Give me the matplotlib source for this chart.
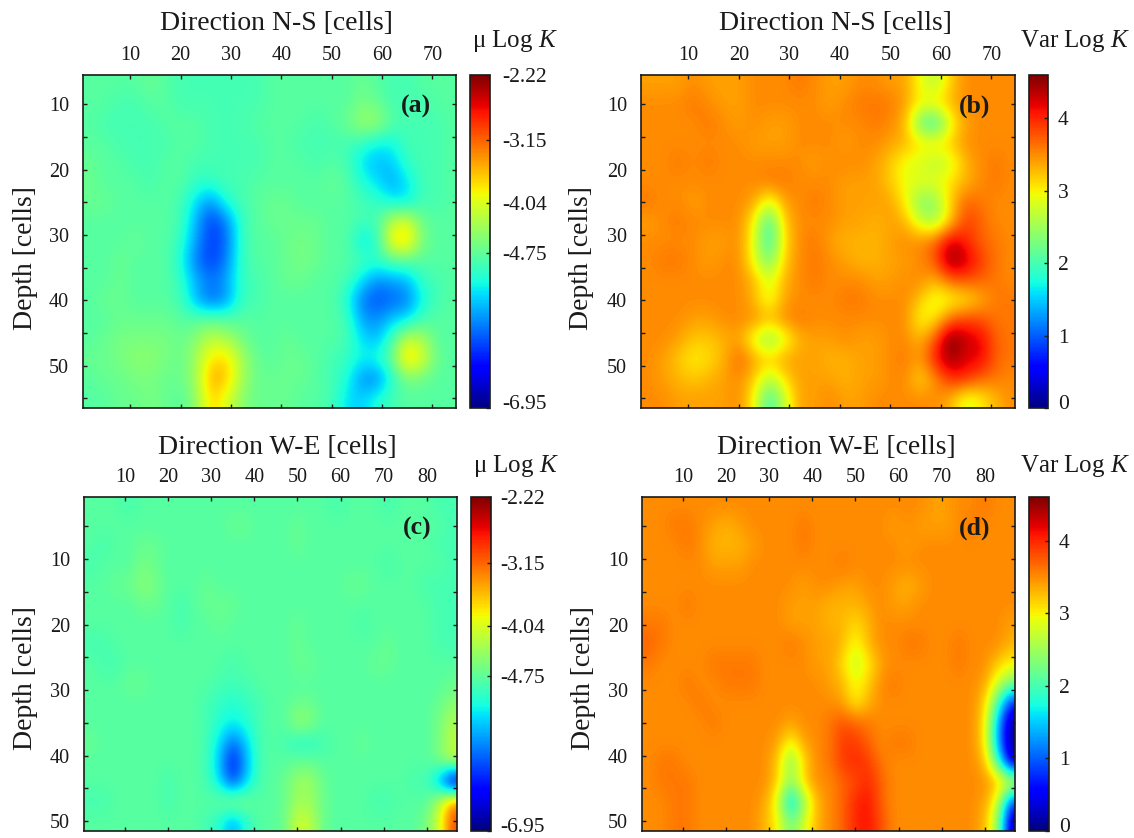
import numpy as np
import matplotlib
matplotlib.use("Agg")
import matplotlib.pyplot as plt
from matplotlib.transforms import ScaledTranslation

plt.rcParams['font.family'] = ['Liberation Serif', 'DejaVu Serif']
plt.rcParams['mathtext.fontset'] = 'custom'
plt.rcParams['mathtext.it'] = 'Liberation Serif:italic'
plt.rcParams['mathtext.rm'] = 'Liberation Serif'

W, H = 1134, 838

# columns every 3 cells: x = 2, 5, ..., 74 ; rows: depth = 7, 10, ..., 55
mu_ns = [
[-4.8,-4.8,-4.8,-4.8,-4.7,-4.8,-4.9,-4.9,-4.9,-4.9,-4.9,-4.9,-4.8,-4.8,-4.8,-4.8,-4.8,-4.8,-4.7,-4.8,-4.9,-4.9,-4.8,-4.8,-4.8],
[-4.8,-4.8,-4.9,-4.9,-4.8,-4.8,-4.9,-4.9,-4.9,-4.9,-4.9,-4.9,-4.8,-4.8,-4.8,-4.8,-4.8,-4.8,-4.6,-4.7,-4.9,-4.9,-4.9,-4.8,-4.8],
[-4.8,-4.9,-4.9,-4.9,-4.9,-4.8,-4.8,-4.8,-4.9,-4.9,-4.9,-4.8,-4.8,-4.8,-4.8,-4.9,-4.8,-4.7,-4.4,-4.4,-4.8,-4.9,-4.9,-4.9,-4.8],
[-4.8,-4.8,-4.9,-4.9,-4.9,-4.9,-4.8,-4.8,-4.9,-4.9,-4.9,-4.9,-4.8,-4.8,-4.9,-4.9,-4.9,-4.9,-5.0,-5.2,-5.2,-4.9,-4.9,-4.9,-4.8],
[-4.7,-4.8,-4.8,-4.9,-4.9,-4.8,-4.8,-4.9,-4.9,-4.9,-4.9,-4.9,-4.8,-4.8,-4.8,-4.9,-4.8,-4.9,-5.3,-5.5,-5.4,-5.0,-4.9,-4.9,-4.8],
[-4.7,-4.8,-4.8,-4.8,-4.9,-4.8,-4.8,-5.0,-5.0,-4.9,-4.9,-4.8,-4.8,-4.8,-4.8,-4.8,-4.7,-4.8,-5.1,-5.3,-5.6,-5.3,-4.9,-4.9,-4.8],
[-4.7,-4.7,-4.8,-4.8,-4.8,-4.8,-4.9,-5.3,-5.7,-5.1,-4.9,-4.8,-4.7,-4.7,-4.8,-4.8,-4.8,-4.8,-4.9,-5.0,-5.2,-5.3,-4.9,-4.9,-4.8],
[-4.8,-4.8,-4.8,-4.8,-4.8,-4.8,-4.9,-5.5,-6.1,-5.8,-5.0,-4.8,-4.7,-4.7,-4.7,-4.7,-4.8,-4.8,-4.9,-4.9,-4.2,-4.0,-4.7,-4.8,-4.8],
[-4.8,-4.8,-4.8,-4.7,-4.8,-4.8,-5.0,-5.6,-6.1,-5.9,-5.0,-4.8,-4.8,-4.7,-4.6,-4.7,-4.8,-4.8,-5.3,-5.1,-3.8,-3.6,-4.6,-4.8,-4.8],
[-4.8,-4.8,-4.7,-4.8,-4.8,-4.8,-5.1,-5.8,-6.1,-5.8,-5.0,-4.8,-4.8,-4.7,-4.6,-4.7,-4.8,-4.8,-4.9,-5.0,-4.8,-4.8,-4.8,-4.8,-4.8],
[-4.8,-4.8,-4.7,-4.8,-4.8,-4.8,-5.0,-5.5,-5.8,-5.6,-5.0,-4.9,-4.8,-4.7,-4.7,-4.8,-4.8,-4.9,-5.3,-5.7,-5.6,-5.5,-5.0,-4.9,-4.8],
[-4.8,-4.7,-4.7,-4.8,-4.8,-4.8,-4.9,-5.5,-5.9,-5.7,-5.0,-4.9,-4.8,-4.8,-4.8,-4.8,-4.8,-5.1,-5.8,-6.0,-5.9,-5.8,-5.2,-4.9,-4.8],
[-4.8,-4.8,-4.7,-4.7,-4.7,-4.7,-4.8,-4.8,-4.7,-4.8,-4.8,-4.8,-4.8,-4.8,-4.8,-4.8,-4.8,-4.9,-5.6,-5.7,-5.4,-5.3,-4.9,-4.8,-4.8],
[-4.8,-4.7,-4.6,-4.6,-4.6,-4.6,-4.7,-4.5,-4.2,-4.3,-4.6,-4.8,-4.8,-4.7,-4.8,-4.8,-4.8,-4.9,-5.3,-5.5,-4.9,-4.1,-4.3,-4.8,-4.8],
[-4.7,-4.7,-4.6,-4.5,-4.5,-4.6,-4.7,-4.4,-3.8,-3.7,-4.3,-4.7,-4.8,-4.7,-4.7,-4.8,-4.9,-5.0,-5.2,-5.1,-4.7,-3.6,-4.0,-4.7,-4.8],
[-4.8,-4.7,-4.7,-4.6,-4.6,-4.7,-4.7,-4.4,-3.5,-3.6,-4.3,-4.7,-4.7,-4.7,-4.7,-4.8,-4.9,-5.1,-5.7,-5.8,-5.1,-4.6,-4.7,-4.8,-4.8],
[-4.8,-4.8,-4.7,-4.7,-4.6,-4.7,-4.8,-4.5,-3.7,-4.0,-4.5,-4.7,-4.7,-4.7,-4.8,-4.8,-4.9,-5.3,-5.4,-5.1,-4.9,-4.8,-4.8,-4.8,-4.8],
]

var_ns = [
[3.4,3.4,3.4,3.5,3.4,3.4,3.4,3.5,3.5,3.5,3.6,3.5,3.4,3.4,3.5,3.5,3.4,3.4,2.9,2.6,3.2,3.5,3.5,3.5,3.5],
[3.5,3.5,3.5,3.6,3.5,3.4,3.4,3.5,3.5,3.5,3.5,3.5,3.4,3.5,3.6,3.6,3.6,3.4,3.0,3.1,3.3,3.5,3.5,3.5,3.5],
[3.5,3.5,3.5,3.5,3.6,3.5,3.4,3.5,3.4,3.4,3.5,3.5,3.5,3.5,3.5,3.6,3.5,3.3,2.1,1.8,2.9,3.4,3.5,3.5,3.5],
[3.5,3.5,3.5,3.5,3.5,3.5,3.5,3.4,3.4,3.4,3.5,3.5,3.5,3.4,3.5,3.5,3.4,3.3,3.1,3.1,3.2,3.5,3.5,3.5,3.5],
[3.5,3.5,3.6,3.5,3.6,3.5,3.5,3.5,3.5,3.5,3.5,3.4,3.5,3.5,3.5,3.4,3.2,2.9,2.8,2.6,2.8,3.3,3.5,3.6,3.5],
[3.5,3.5,3.5,3.5,3.5,3.5,3.5,3.5,3.6,3.6,3.5,3.5,3.5,3.4,3.4,3.4,3.2,2.9,2.9,2.9,3.1,3.3,3.5,3.6,3.5],
[3.6,3.5,3.5,3.4,3.5,3.5,3.5,3.4,2.8,3.4,3.5,3.6,3.5,3.4,3.4,3.4,3.4,3.0,2.3,2.4,3.2,3.7,3.6,3.5,3.5],
[3.4,3.5,3.6,3.5,3.5,3.5,3.5,3.0,1.9,3.2,3.5,3.5,3.5,3.4,3.4,3.3,3.4,3.3,2.7,2.5,3.2,3.9,3.7,3.5,3.5],
[3.5,3.5,3.5,3.5,3.4,3.4,3.5,2.9,1.8,3.1,3.5,3.6,3.4,3.3,3.3,3.3,3.4,3.5,3.5,3.7,4.3,4.0,3.7,3.6,3.5],
[3.5,3.6,3.6,3.5,3.4,3.5,3.5,2.9,2.2,3.2,3.5,3.6,3.5,3.4,3.3,3.3,3.4,3.4,3.5,3.8,4.6,4.3,3.9,3.6,3.5],
[3.5,3.5,3.5,3.5,3.5,3.5,3.5,3.3,2.8,3.3,3.5,3.6,3.5,3.5,3.5,3.4,3.4,3.5,3.5,3.3,3.7,3.8,3.7,3.6,3.5],
[3.5,3.5,3.5,3.5,3.5,3.5,3.5,3.3,2.8,3.4,3.5,3.5,3.5,3.6,3.6,3.5,3.5,3.5,3.2,2.8,2.9,3.0,3.3,3.6,3.6],
[3.5,3.5,3.5,3.4,3.4,3.5,3.5,3.5,3.3,3.5,3.6,3.5,3.5,3.5,3.5,3.5,3.5,3.5,2.9,3.1,3.7,3.9,3.8,3.6,3.6],
[3.5,3.5,3.4,3.2,3.2,3.3,3.4,2.8,2.3,2.8,3.3,3.4,3.4,3.5,3.4,3.4,3.5,3.5,3.3,3.8,4.7,4.3,4.2,3.7,3.6],
[3.5,3.4,3.2,3.0,3.1,3.3,3.7,3.4,3.2,3.4,3.4,3.4,3.3,3.3,3.4,3.4,3.5,3.6,3.4,4.1,4.5,4.2,4.2,3.7,3.6],
[3.5,3.4,3.3,3.2,3.3,3.4,3.5,3.2,2.6,3.1,3.4,3.4,3.4,3.3,3.4,3.4,3.5,3.5,3.1,3.5,4.0,4.0,3.7,3.6,3.5],
[3.5,3.5,3.4,3.4,3.4,3.4,3.5,3.0,1.9,2.7,3.4,3.4,3.5,3.4,3.4,3.5,3.5,3.5,3.5,3.5,3.3,2.8,3.0,3.3,3.5],
]

# columns every 3 cells: x = 2, 5, ..., 86 ; rows: depth = 2, 5, ..., 50
mu_we = [
[-4.8,-4.8,-4.8,-4.9,-4.8,-4.8,-4.8,-4.8,-4.8,-4.8,-4.8,-4.8,-4.8,-4.8,-4.8,-4.8,-4.8,-4.8,-4.8,-4.9,-4.8,-4.8,-4.8,-4.9,-4.8,-4.8,-4.8,-4.9,-4.9],
[-4.8,-4.8,-4.8,-4.8,-4.8,-4.8,-4.8,-4.8,-4.8,-4.8,-4.8,-4.7,-4.7,-4.8,-4.8,-4.8,-4.7,-4.8,-4.8,-4.8,-4.8,-4.8,-4.8,-4.8,-4.8,-4.8,-4.8,-4.8,-4.9],
[-4.8,-4.9,-4.8,-4.8,-4.7,-4.7,-4.8,-4.8,-4.8,-4.8,-4.8,-4.8,-4.8,-4.8,-4.8,-4.8,-4.7,-4.8,-4.8,-4.8,-4.8,-4.8,-4.8,-4.8,-4.8,-4.8,-4.8,-4.9,-4.9],
[-4.9,-4.8,-4.8,-4.8,-4.6,-4.7,-4.8,-4.8,-4.8,-4.8,-4.8,-4.8,-4.8,-4.8,-4.8,-4.8,-4.8,-4.8,-4.8,-4.8,-4.8,-4.8,-4.8,-4.9,-4.8,-4.8,-4.8,-4.8,-4.9],
[-4.8,-4.8,-4.7,-4.7,-4.5,-4.6,-4.8,-4.8,-4.8,-4.7,-4.8,-4.8,-4.8,-4.8,-4.8,-4.8,-4.8,-4.8,-4.8,-4.8,-4.7,-4.7,-4.8,-4.8,-4.8,-4.8,-4.9,-4.9,-4.9],
[-4.8,-4.8,-4.8,-4.8,-4.7,-4.7,-4.8,-4.9,-4.8,-4.7,-4.7,-4.7,-4.8,-4.8,-4.8,-4.8,-4.8,-4.8,-4.8,-4.8,-4.8,-4.8,-4.8,-4.8,-4.8,-4.8,-4.8,-4.9,-4.9],
[-4.8,-4.8,-4.8,-4.8,-4.8,-4.8,-4.8,-4.9,-4.8,-4.8,-4.7,-4.8,-4.8,-4.8,-4.8,-4.8,-4.7,-4.8,-4.8,-4.8,-4.8,-4.9,-4.8,-4.8,-4.8,-4.8,-4.8,-4.9,-4.9],
[-4.9,-4.9,-4.8,-4.8,-4.8,-4.8,-4.8,-4.8,-4.8,-4.8,-4.8,-4.8,-4.8,-4.8,-4.8,-4.8,-4.7,-4.8,-4.8,-4.8,-4.8,-4.8,-4.8,-4.7,-4.8,-4.8,-4.8,-4.9,-4.9],
[-4.8,-4.9,-4.9,-4.8,-4.8,-4.8,-4.8,-4.8,-4.8,-4.8,-4.8,-4.9,-4.8,-4.8,-4.8,-4.8,-4.7,-4.7,-4.8,-4.8,-4.8,-4.8,-4.7,-4.7,-4.8,-4.8,-4.8,-4.8,-4.8],
[-4.8,-4.8,-4.8,-4.7,-4.7,-4.8,-4.8,-4.8,-4.8,-4.8,-4.9,-4.9,-4.9,-4.8,-4.8,-4.8,-4.8,-4.8,-4.8,-4.8,-4.8,-4.8,-4.8,-4.8,-4.8,-4.8,-4.8,-4.8,-4.7],
[-4.8,-4.8,-4.8,-4.8,-4.8,-4.8,-4.8,-4.8,-4.8,-4.9,-5.0,-5.1,-5.0,-4.9,-4.8,-4.8,-4.7,-4.7,-4.8,-4.8,-4.8,-4.8,-4.8,-4.8,-4.8,-4.8,-4.8,-4.7,-4.5],
[-4.8,-4.8,-4.8,-4.8,-4.8,-4.8,-4.8,-4.8,-4.8,-4.9,-5.1,-5.2,-5.1,-4.9,-4.8,-4.8,-4.4,-4.5,-4.8,-4.8,-4.8,-4.8,-4.8,-4.8,-4.8,-4.8,-4.8,-4.6,-4.3],
[-4.7,-4.8,-4.8,-4.8,-4.8,-4.8,-4.8,-4.8,-4.8,-4.9,-5.3,-5.9,-5.4,-4.9,-4.8,-4.9,-5.1,-5.1,-4.9,-4.8,-4.8,-4.7,-4.8,-4.8,-4.8,-4.8,-4.8,-4.6,-4.2],
[-4.8,-4.8,-4.8,-4.8,-4.8,-4.8,-4.8,-4.8,-4.8,-4.9,-5.5,-6.3,-5.6,-4.9,-4.8,-4.8,-4.7,-4.7,-4.8,-4.8,-4.8,-4.8,-4.8,-4.8,-4.8,-4.8,-4.8,-4.6,-4.2],
[-4.8,-4.8,-4.8,-4.8,-4.8,-4.8,-4.9,-4.8,-4.8,-4.9,-5.3,-6.1,-5.4,-4.9,-4.8,-4.7,-4.4,-4.4,-4.7,-4.8,-4.8,-4.8,-4.8,-4.8,-4.8,-4.9,-4.9,-5.6,-6.95],
[-4.9,-4.9,-4.8,-4.8,-4.8,-4.8,-4.9,-4.8,-4.8,-4.8,-4.7,-4.4,-4.6,-4.8,-4.8,-4.7,-4.4,-4.4,-4.7,-4.8,-4.8,-4.8,-4.9,-4.9,-4.8,-4.8,-4.8,-4.2,-3.3],
[-4.8,-4.8,-4.8,-4.8,-4.8,-4.8,-4.8,-4.8,-4.8,-4.9,-5.1,-5.6,-5.1,-4.8,-4.8,-4.7,-4.1,-4.2,-4.7,-4.8,-4.8,-4.8,-4.8,-4.8,-4.8,-4.8,-4.6,-4.1,-3.0],
]

var_we = [
[3.5,3.5,3.5,3.5,3.5,3.5,3.5,3.5,3.5,3.5,3.5,3.5,3.5,3.5,3.5,3.5,3.5,3.5,3.5,3.5,3.5,3.5,3.4,3.4,3.5,3.5,3.6,3.5,3.5],
[3.5,3.5,3.6,3.6,3.5,3.4,3.3,3.4,3.5,3.5,3.5,3.5,3.6,3.5,3.5,3.5,3.5,3.5,3.5,3.4,3.5,3.4,3.4,3.4,3.5,3.6,3.5,3.5,3.5],
[3.5,3.5,3.5,3.6,3.5,3.3,3.3,3.3,3.4,3.5,3.5,3.5,3.6,3.5,3.5,3.5,3.5,3.5,3.5,3.5,3.4,3.5,3.5,3.5,3.5,3.5,3.5,3.5,3.5],
[3.5,3.5,3.5,3.5,3.5,3.4,3.4,3.4,3.5,3.5,3.5,3.5,3.5,3.5,3.5,3.6,3.5,3.5,3.5,3.5,3.5,3.5,3.5,3.5,3.5,3.5,3.5,3.5,3.5],
[3.5,3.5,3.5,3.5,3.5,3.5,3.5,3.5,3.5,3.5,3.5,3.5,3.4,3.5,3.5,3.4,3.4,3.5,3.5,3.4,3.3,3.4,3.5,3.5,3.5,3.5,3.5,3.5,3.5],
[3.5,3.5,3.5,3.6,3.5,3.5,3.5,3.5,3.5,3.5,3.5,3.4,3.4,3.4,3.3,3.3,3.3,3.4,3.5,3.4,3.4,3.5,3.5,3.5,3.5,3.5,3.5,3.5,3.5],
[3.6,3.6,3.5,3.5,3.5,3.5,3.5,3.5,3.5,3.5,3.5,3.4,3.4,3.4,3.3,3.3,3.1,3.3,3.5,3.5,3.5,3.5,3.5,3.5,3.5,3.5,3.5,3.5,3.4],
[3.7,3.6,3.5,3.5,3.5,3.5,3.5,3.5,3.5,3.5,3.5,3.6,3.5,3.4,3.4,3.3,2.9,3.3,3.5,3.5,3.6,3.6,3.5,3.5,3.6,3.5,3.5,3.5,3.3],
[3.6,3.5,3.5,3.5,3.5,3.6,3.6,3.6,3.6,3.5,3.5,3.5,3.5,3.4,3.4,3.1,2.7,3.0,3.4,3.5,3.5,3.5,3.5,3.5,3.6,3.5,3.5,3.2,3.0],
[3.5,3.5,3.5,3.6,3.5,3.5,3.6,3.6,3.6,3.5,3.5,3.5,3.5,3.5,3.4,3.3,2.9,3.2,3.5,3.6,3.5,3.5,3.5,3.5,3.5,3.5,3.4,2.8,2.3],
[3.5,3.5,3.5,3.5,3.6,3.5,3.5,3.5,3.5,3.5,3.5,3.5,3.5,3.5,3.5,3.4,3.0,3.3,3.5,3.5,3.5,3.5,3.5,3.5,3.5,3.5,3.2,2.0,0.7],
[3.5,3.5,3.5,3.5,3.5,3.6,3.5,3.5,3.5,3.5,3.5,3.4,3.5,3.5,3.6,3.8,3.7,3.6,3.5,3.5,3.5,3.5,3.5,3.5,3.5,3.5,3.1,1.4,0.1],
[3.5,3.5,3.5,3.5,3.5,3.5,3.5,3.5,3.5,3.5,3.4,2.9,3.4,3.5,3.6,3.9,3.9,3.7,3.5,3.6,3.6,3.5,3.5,3.5,3.5,3.5,3.1,1.3,0.1],
[3.5,3.6,3.6,3.5,3.5,3.5,3.5,3.5,3.5,3.5,3.2,2.3,3.1,3.5,3.6,3.9,4.0,3.9,3.6,3.5,3.5,3.5,3.5,3.5,3.5,3.5,3.3,2.0,0.2],
[3.5,3.6,3.6,3.6,3.5,3.5,3.5,3.5,3.5,3.5,3.2,2.4,3.2,3.5,3.5,3.7,3.8,4.0,3.7,3.5,3.5,3.5,3.5,3.5,3.5,3.5,3.5,3.3,3.0],
[3.5,3.5,3.6,3.6,3.5,3.5,3.5,3.5,3.5,3.4,2.8,1.4,2.4,3.3,3.5,3.7,4.0,4.1,3.7,3.5,3.5,3.5,3.5,3.5,3.5,3.5,3.4,2.8,0.9],
[3.5,3.5,3.6,3.6,3.5,3.5,3.5,3.5,3.5,3.3,3.0,2.2,2.8,3.3,3.5,3.7,4.0,4.1,3.8,3.5,3.5,3.5,3.5,3.5,3.5,3.5,3.3,2.5,0.2],
]

x_label_ns = "Direction N-S [cells]"
x_label_we = "Direction W-E [cells]"
y_label = "Depth [cells]"
mu_label = "\u03bc Log $\\mathit{K}$"
var_label = "Var Log $\\mathit{K}$"
mu_ticks = [-2.22, -3.15, -4.04, -4.75, -6.95]
mu_ticklabels = ["-2.22", "-3.15", "-4.04", "-4.75", "-6.95"]
var_ticks = [0, 1, 2, 3, 4]

panels = [
    dict(data=mu_ns, ext=(0.5, 75.5, 56.5, 5.5), xl=(0.6, 74.7), yl=(56.5, 5.5), px=(83, 456, 75, 408), cb=(470, 490), cpad=9,
         vr=(-6.95, -2.22), ticks=mu_ticks, tl=mu_ticklabels, title=x_label_ns, cl=mu_label, tag="(a)",
         tx=276, ty=23, lx=25, ly=258, cx=515, cy=41, xt=range(10, 71, 10), yt=range(10, 56, 5)),
    dict(data=var_ns, ext=(0.5, 75.5, 56.5, 5.5), xl=(0.6, 74.7), yl=(56.5, 5.5), px=(641, 1015, 75, 408), cb=(1029, 1048), cpad=7,
         vr=(0, 4.6), ticks=var_ticks, tl=[str(t) for t in var_ticks], title=x_label_ns, cl=var_label, tag="(b)",
         tx=835, ty=23, lx=582, ly=258, cx=1075, cy=41, xt=range(10, 71, 10), yt=range(10, 56, 5)),
    dict(data=mu_we, ext=(0.5, 87.5, 51.5, 0.5), xl=(0.5, 87), yl=(51.5, 0.5), px=(84, 457, 497, 831), cb=(471, 491), cpad=6.5,
         vr=(-6.95, -2.22), ticks=mu_ticks, tl=mu_ticklabels, title=x_label_we, cl=mu_label, tag="(c)",
         tx=277, ty=447, lx=25, ly=678, cx=516, cy=466, xt=range(10, 81, 10), yt=range(5, 51, 5)),
    dict(data=var_we, ext=(0.5, 87.5, 51.5, 0.5), xl=(0.5, 87), yl=(51.5, 0.5), px=(642, 1015, 497, 831), cb=(1029, 1049), cpad=7,
         vr=(0, 4.6), ticks=var_ticks, tl=[str(t) for t in var_ticks], title=x_label_we, cl=var_label, tag="(d)",
         tx=836, ty=447, lx=583, ly=678, cx=1075, cy=466, xt=range(10, 81, 10), yt=range(5, 51, 5)),
]

fig = plt.figure(figsize=(W / 100, H / 100), dpi=100)
ink = '#1a1a1a'


def box(x0, x1, y0, y1):
    return [x0 / W, 1 - y1 / H, (x1 - x0) / W, (y1 - y0) / H]


def put(x, y, s, **kw):
    fig.text(x / W, 1 - y / H, s, ha='center', va='center', color=ink, **kw)


for p in panels:
    x0, x1, y0, y1 = p['px']
    ax = fig.add_axes(box(x0, x1, y0, y1))
    im = ax.imshow(np.array(p['data']), cmap='jet', vmin=p['vr'][0], vmax=p['vr'][1], extent=p['ext'],
                   aspect='auto', interpolation='bicubic')
    ax.set_xlim(*p['xl'])
    ax.set_ylim(*p['yl'])
    ax.set_xticks(list(p['xt']))
    ax.set_yticks(list(p['yt']))
    ax.set_yticklabels([str(t) if t % 10 == 0 else '' for t in p['yt']])
    ax.tick_params(axis='both', direction='in', top=True, bottom=True, left=True, right=True,
                   labeltop=True, labelbottom=False, labelsize=14.5, length=3, width=1, colors=ink)
    ax.tick_params(axis='x', pad=7)
    ax.tick_params(axis='y', pad=10)
    for s in ax.spines.values():
        s.set_linewidth(1.2)
        s.set_color(ink)
    put(p['tx'], p['ty'], p['title'], fontsize=20)
    put(p['lx'], p['ly'], y_label, fontsize=20, rotation=90)
    put(x1 - 40, y0 + 31, p['tag'], fontsize=18.5, fontweight='bold')

    cax = fig.add_axes(box(p['cb'][0], p['cb'][1], y0, y1))
    cb = fig.colorbar(im, cax=cax)
    cb.set_ticks(p['ticks'])
    cb.set_ticklabels(p['tl'])
    cax.tick_params(direction='in', length=3, width=1, labelsize=15.5, colors=ink, pad=p['cpad'])
    cb.outline.set_linewidth(1.2)
    cb.outline.set_edgecolor(ink)
    # the lowest tick label sits a little above the end of the bar
    low = min(p['ticks'])
    for t, lab in zip(p['ticks'], cax.get_yticklabels()):
        if t == low:
            lab.set_transform(lab.get_transform() + ScaledTranslation(0, 4 / 72, fig.dpi_scale_trans))
    put(p['cx'], p['cy'], p['cl'], fontsize=18)

fig.savefig('out.png', dpi=100)
